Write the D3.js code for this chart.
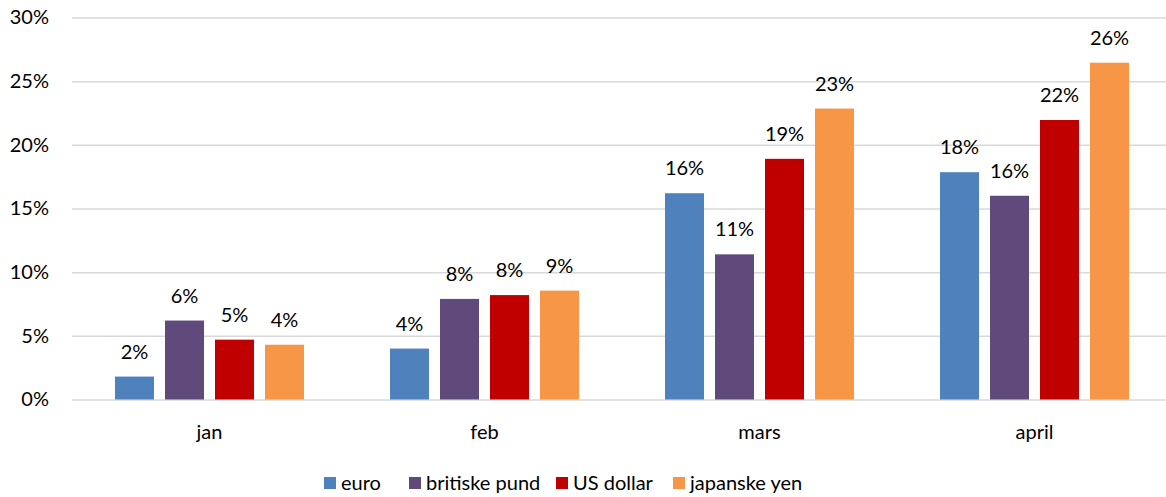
<!DOCTYPE html>
<html>
<head>
<meta charset="utf-8">
<script src="https://d3js.org/d3.v7.min.js"></script>
<style>
	body { margin: 0; background: #fff; }
	text { font-family: Lato, "Open Sans", sans-serif; fill: #000; }
</style>
</head>
<body>
<div id="chart"></div>
<script>
	// data
	const months = ["jan", "feb", "mars", "april"];
	const currencies = ["euro", "britiske pund", "US dollar", "japanske yen"];
	const euro = [1.8, 4.0, 16.2, 17.85];
	const pund = [6.2, 7.9, 11.4, 16.0];
	const usd = [4.7, 8.2, 18.9, 21.95];
	const yen = [4.3, 8.55, 22.85, 26.45];
	const yTicks = [0, 5, 10, 15, 20, 25, 30];

	const values = [euro, pund, usd, yen];
	const colors = ["#4F81BD", "#604A7B", "#C00000", "#F79646"];

	const width = 1166, height = 497;
	const fs = "20px";

	const svg = d3.select("#chart")
		.append("svg")
		.attr("width", width)
		.attr("height", height);

	const x0 = d3.scaleBand().domain(months).range([72, 1172]);
	const x1 = d3.scaleBand().domain(currencies).range([0, 189]).paddingInner(0.22);
	const y = d3.scaleLinear().domain([0, 30]).range([399.5, 17.5]);

	// gridlines + y labels
	const yAxis = svg.append("g")
		.attr("transform", "translate(72,0)")
		.call(d3.axisLeft(y).tickValues(yTicks).tickSize(-1100).tickFormat(d => d + "%"));
	yAxis.select(".domain").remove();
	yAxis.selectAll(".tick line").attr("stroke", "#D9D9D9").attr("stroke-width", 1.5);
	yAxis.selectAll(".tick text")
		.attr("x", -23)
		.style("font-size", fs);

	// bars
	const groups = svg.append("g").selectAll("g")
		.data(months)
		.join("g")
		.attr("transform", d => `translate(${x0(d) + x0.bandwidth() / 2 - 94.5},0)`);

	groups.selectAll("rect")
		.data((m, i) => currencies.map((c, j) => ({ c, j, v: values[j][i] })))
		.join("rect")
		.attr("x", d => x1(d.c))
		.attr("y", d => y(d.v))
		.attr("width", x1.bandwidth())
		.attr("height", d => y(0) - y(d.v))
		.attr("fill", d => colors[d.j]);

	groups.selectAll("text")
		.data((m, i) => currencies.map((c, j) => ({ c, j, v: values[j][i] })))
		.join("text")
		.attr("x", d => x1(d.c) + x1.bandwidth() / 2)
		.attr("y", d => y(d.v) - 18)
		.attr("text-anchor", "middle")
		.style("font-size", fs)
		.text(d => Math.round(d.v) + "%");

	// category labels
	const xAxis = svg.append("g")
		.attr("transform", "translate(0,399.5)")
		.call(d3.axisBottom(x0).tickSize(0));
	xAxis.select(".domain").remove();
	xAxis.selectAll(".tick text")
		.attr("dy", 0)
		.attr("y", 39.5)
		.style("font-size", fs);

	// legend
	const legendX = [324, 409, 556, 673];
	const legend = svg.append("g").selectAll("g")
		.data(currencies)
		.join("g")
		.attr("transform", (d, i) => `translate(${legendX[i]},477)`);
	legend.append("rect")
		.attr("width", 12)
		.attr("height", 12)
		.attr("fill", (d, i) => colors[i]);
	legend.append("text")
		.attr("x", 17)
		.attr("y", 13)
		.style("font-size", fs)
		.text(d => d);
</script>
</body>
</html>
